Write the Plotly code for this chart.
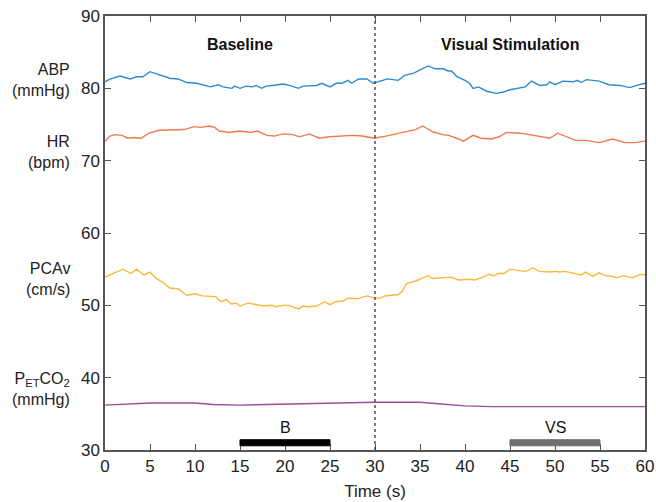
import plotly.graph_objects as go

# Time base (s) for each recorded trace
abp_t = [0, 0.55, 1.67, 2.8, 3.5, 4.2, 5, 6.1, 7.2, 8.1, 9.1, 10.2, 11.7, 12.6, 13.1, 14.1, 14.4, 15,
         15.7, 16.4, 16.8, 17.4, 17.9, 18.6, 19.8, 20.5, 21.5, 22, 22.8, 23.5, 24.1, 25, 25.7, 26.3,
         27, 27.4, 28.2, 29.1, 29.8, 30.6, 31.4, 32.6, 33.3, 34.3, 35, 35.9, 36.7, 37.6, 38.1, 38.5,
         39.1, 40, 40.5, 40.9, 41.5, 42.4, 43.5, 44.3, 45, 46.1, 46.7, 47.4, 48.3, 49.1, 49.4, 50,
         50.9, 52.0, 52.5, 52.9, 53.5, 54.9, 56, 57.2, 58.3, 59.1, 60]
abp = [80.9, 81.27, 81.7, 81.3, 81.6, 81.6, 82.3, 81.8, 81.4, 81.3, 80.8, 80.7, 80.2, 80.5, 80.2, 80.0,
       80.3, 80.0, 80.3, 80.2, 80.4, 80.0, 80.3, 80.4, 80.6, 80.4, 80.0, 80.3, 80.3, 80.4, 80.7, 80.2,
       80.7, 80.7, 81.1, 80.7, 81.3, 81.3, 80.7, 81.0, 81.3, 81.1, 81.8, 82.1, 82.5, 83.1, 82.7, 82.7,
       82.4, 82.4, 81.6, 81.1, 80.7, 80.0, 80.2, 79.6, 79.3, 79.5, 79.8, 80.1, 80.2, 81.0, 80.4, 80.5,
       80.9, 80.5, 81.0, 80.9, 81.1, 80.8, 81.2, 81.0, 80.5, 80.4, 80.1, 80.4, 80.7]

hr_t = [0, 0.55, 1.1, 1.9, 2.5, 3.2, 4, 4.9, 6, 7.7, 8.8, 9.9, 10.6, 11.6, 12.2, 12.7, 13.8, 15, 16.2,
        16.9, 18, 18.8, 19.8, 20.9, 21.6, 22.7, 23.8, 24.9, 26.4, 27.5, 28.6, 29.9, 31.2, 32.3, 33.4,
        34.5, 35.3, 36.4, 37.5, 38.2, 39.3, 39.8, 40.9, 41.8, 42.9, 43.8, 44.6, 46.1, 47.2, 48.3,
        49.4, 50.3, 51.2, 52.3, 53.4, 54.9, 56.4, 57.8, 58.9, 60]
hr = [72.7, 73.4, 73.6, 73.5, 73.1, 73.2, 73.1, 73.8, 74.2, 74.2, 74.3, 74.7, 74.6, 74.8, 74.6, 74.1,
      73.9, 74.1, 73.9, 74.1, 73.5, 73.4, 73.7, 73.6, 73.3, 73.7, 73.1, 73.3, 73.4, 73.5, 73.4, 73.1,
      73.4, 73.7, 74.1, 74.3, 74.8, 74.0, 73.6, 73.5, 73.0, 72.7, 73.5, 73.1, 73.0, 73.3, 73.9, 73.8,
      73.6, 73.4, 73.1, 73.8, 73.3, 72.8, 72.8, 72.5, 73.0, 72.5, 72.5, 72.7]

pca_t = [0, 0.9, 2, 2.9, 3.5, 4.3, 5, 5.7, 6.4, 7.2, 8.1, 9.1, 10, 10.8, 11.7, 12.3, 12.9, 13.5, 14,
         14.6, 15, 15.9, 16.8, 17.6, 18.5, 19, 19.8, 20.4, 21.5, 22, 22.6, 23.5, 24.4, 25, 25.6, 26.5,
         27, 28, 29.1, 30, 30.6, 31.1, 32.6, 33, 33.5, 34.6, 35.3, 35.9, 36.4, 37.5, 38.4, 39.3, 40.5,
         41.1, 42, 42.6, 43.2, 43.7, 44.3, 45, 45.6, 46.5, 47, 47.5, 48.3, 49.4, 50.1, 50.5, 51.1, 52,
         52.9, 53.4, 54.2, 54.9, 55.6, 56.4, 56.9, 57.5, 58.6, 59.5, 60]
pca = [53.9, 54.4, 55.0, 54.4, 55.0, 54.2, 54.6, 53.7, 53.2, 52.4, 52.3, 51.4, 51.6, 51.3, 51.2, 51.2,
       50.5, 50.8, 50.2, 50.3, 49.9, 50.3, 50.1, 49.9, 50.0, 49.8, 50.0, 50.0, 49.5, 49.9, 49.8, 49.9,
       50.5, 50.1, 50.5, 50.6, 51.0, 50.9, 51.3, 51.0, 51.0, 51.3, 51.5, 51.9, 53.0, 53.4, 53.8, 54.1,
       53.7, 53.8, 53.9, 53.5, 53.6, 53.5, 53.9, 54.3, 54.1, 54.4, 54.4, 55.0, 54.9, 54.7, 54.8, 55.2,
       54.7, 54.6, 54.7, 54.6, 54.7, 54.4, 54.2, 54.6, 54.0, 54.5, 54.1, 54.0, 53.8, 54.1, 53.8, 54.3,
       54.2]

co2_t = [0, 3, 5, 8, 10, 12, 15, 18, 22, 25, 28, 30, 33, 35, 37, 40, 43, 46, 50, 54, 57, 60]
co2 = [36.2, 36.4, 36.5, 36.5, 36.5, 36.3, 36.2, 36.3, 36.4, 36.5, 36.6, 36.6, 36.6, 36.6, 36.4,
       36.1, 36.0, 36.0, 36.0, 36.0, 36.0, 36.0]

series_names = ["ABP", "HR", "PCAv", "PETCO2"]
series_colors = ["#2b8ad3", "#f07a4e", "#fdb73d", "#9a4c9e"]

# y-axis labels per trace, centred on the given y value
trace_labels = ["ABP<br>(mmHg)", "HR<br>(bpm)", "PCAv<br>(cm/s)", "P<sub>ET</sub>CO<sub>2</sub><br>(mmHg)"]
label_y = [81.1, 71.2, 53.6, 38.4]

# analysis windows: baseline and visual stimulation
win_names = ["B", "VS"]
win_start = [15, 45]
win_end = [25, 55]
win_colors = ["#000000", "#707070"]
win_level = 31

phase_names = ["Baseline", "Visual Stimulation"]
phase_x = [15, 45]
stim_onset = 30

x_ticks = [0, 5, 10, 15, 20, 25, 30, 35, 40, 45, 50, 55, 60]
y_ticks = [30, 40, 50, 60, 70, 80, 90]

FONT = "Liberation Sans, Arial, sans-serif"
TXT = "#222222"

fig = go.Figure()
for t, v, name, col in zip([abp_t, hr_t, pca_t, co2_t], [abp, hr, pca, co2], series_names, series_colors):
    fig.add_trace(go.Scatter(x=t, y=v, mode="lines", name=name,
                             line=dict(color=col, width=1.4), showlegend=False))

# stimulus onset marker
fig.add_shape(type="line", x0=stim_onset, x1=stim_onset, y0=30, y1=90, xref="x", yref="y",
              line=dict(color="#444444", width=1.4, dash="dot"))

for name, s, e, col in zip(win_names, win_start, win_end, win_colors):
    fig.add_shape(type="rect", x0=s, x1=e, y0=win_level - 0.42, y1=win_level + 0.42,
                  xref="x", yref="y", fillcolor=col, line=dict(color=col, width=1))
    fig.add_annotation(x=(s + e) / 2, y=win_level + 0.6, text=name, showarrow=False,
                       yanchor="bottom", font=dict(family=FONT, size=16, color="#111111"))

for name, x in zip(phase_names, phase_x):
    fig.add_annotation(x=x, y=86.05, text=f"<b>{name}</b>", showarrow=False,
                       font=dict(family=FONT, size=16, color="#111111"))

for txt, y in zip(trace_labels, label_y):
    fig.add_annotation(x=-0.061, xref="paper", y=y, yref="y", text=txt, showarrow=False,
                       xanchor="right", yanchor="middle", align="right",
                       font=dict(family=FONT, size=16, color=TXT))

axis_common = dict(showline=True, linecolor="#555555", linewidth=1.5, mirror="ticks",
                   ticks="inside", ticklen=6, tickwidth=1.3, tickcolor="#555555",
                   showgrid=False, zeroline=False, automargin=False,
                   tickfont=dict(family=FONT, size=17, color=TXT))

fig.update_xaxes(range=[0, 60], tickvals=x_ticks,
                 title=dict(text="Time (s)", font=dict(family=FONT, size=17, color=TXT), standoff=10),
                 **axis_common)
fig.update_yaxes(range=[30, 90], tickvals=y_ticks, **axis_common)

fig.update_layout(width=656, height=502, plot_bgcolor="white", paper_bgcolor="white",
                  margin=dict(l=105, r=11, t=16, b=52))

fig.write_html("out.html")
